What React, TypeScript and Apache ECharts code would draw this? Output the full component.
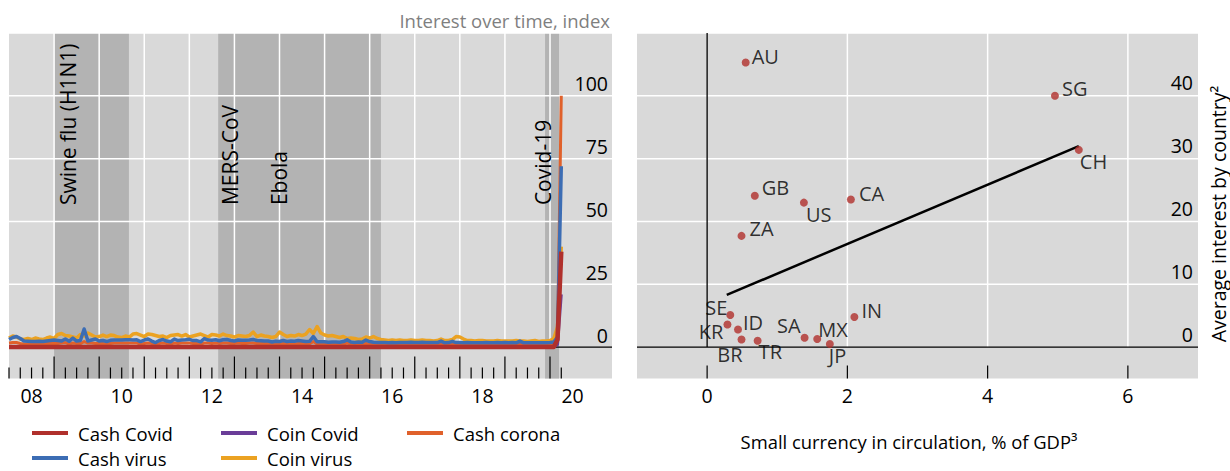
import React, { useEffect, useRef } from "react";
import * as echarts from "echarts";

const FONT = '"Open Sans", "Noto Sans", sans-serif';

// ---------- Left panel: interest over time (monthly, from Jan 2008) ----------
const START_YEAR = 2008;

const CASH_COVID = [
  0, 0, 0, 0, 0, 0, 0, 0, 0, 0, 0, 0,
  0, 0, 0, 0, 0, 0, 0, 0, 0, 0, 0, 0,
  0, 0, 0, 0, 0, 0, 0, 0, 0, 0, 0, 0,
  0, 0, 0, 0, 0, 0, 0, 0, 0, 0, 0, 0,
  0, 0, 0, 0, 0, 0, 0, 0, 0, 0, 0, 0,
  0, 0, 0, 0, 0, 0, 0, 0, 0, 0, 0, 0,
  0, 0, 0, 0, 0, 0, 0, 0, 0, 0, 0, 0,
  0, 0, 0, 0, 0, 0, 0, 0, 0, 0, 0, 0,
  0, 0, 0, 0, 0, 0, 0, 0, 0, 0, 0, 0,
  0, 0, 0, 0, 0, 0, 0, 0, 0, 0, 0, 0,
  0, 0, 0, 0, 0, 0, 0, 0, 0, 0, 0, 0,
  0, 0, 0, 0, 0, 0, 0, 0, 0, 0, 0, 0,
  0, 0, 3, 38,
];

const COIN_COVID = [
  0, 0, 0, 0, 0, 0, 0, 0, 0, 0, 0, 0,
  0, 0, 0, 0, 0, 0, 0, 0, 0, 0, 0, 0,
  0, 0, 0, 0, 0, 0, 0, 0, 0, 0, 0, 0,
  0, 0, 0, 0, 0, 0, 0, 0, 0, 0, 0, 0,
  0, 0, 0, 0, 0, 0, 0, 0, 0, 0, 0, 0,
  0, 0, 0, 0, 0, 0, 0, 0, 0, 0, 0, 0,
  0, 0, 0, 0, 0, 0, 0, 0, 0, 0, 0, 0,
  0, 0, 0, 0, 0, 0, 0, 0, 0, 0, 0, 0,
  0, 0, 0, 0, 0, 0, 0, 0, 0, 0, 0, 0,
  0, 0, 0, 0, 0, 0, 0, 0, 0, 0, 0, 0,
  0, 0, 0, 0, 0, 0, 0, 0, 0, 0, 0, 0,
  0, 0, 0, 0, 0, 0, 0, 0, 0, 0, 0, 0,
  0, 0, 1, 21,
];

const CASH_CORONA = [
  1.6, 1.8, 1.8, 1.4, 1.2, 1.2, 1.2, 1.2, 1.2, 1.2, 1.4, 1.4,
  1.4, 1.4, 1.6, 1.8, 1.2, 1.6, 1.4, 1.4, 2.2, 1.6, 1.6, 1.4,
  1.4, 1.4, 1.2, 1.4, 1.6, 1.6, 1.6, 1.6, 1.6, 1.6, 1.6, 1.2,
  1.4, 1.6, 1.4, 1.2, 1.4, 1.6, 1.4, 1.2, 1.6, 1.4, 1.6, 1.6,
  1.6, 1.4, 1.4, 1.2, 1.6, 1.6, 1.4, 1.6, 1.4, 1.6, 1.6, 1.4,
  1.4, 1.6, 1.4, 1.4, 1.6, 1.6, 1.4, 1.4, 1.4, 1.4, 1.2, 1.4,
  1.2, 1.4, 1.2, 1.4, 1.2, 1.4, 1.4, 1.2, 1.4, 2.2, 1.2, 1.2,
  1.2, 1.0, 1.2, 1.2, 1.0, 1.2, 1.6, 1.2, 1.0, 1.2, 1.0, 1.4,
  1.2, 1.0, 1.0, 1.0, 1.0, 1.0, 1.0, 1.0, 1.0, 1.0, 1.0, 1.0,
  1.0, 1.0, 1.0, 1.0, 1.0, 1.0, 1.0, 1.2, 1.0, 1.0, 1.2, 1.0,
  1.0, 1.0, 1.0, 1.0, 1.0, 1.0, 1.0, 1.0, 1.0, 1.0, 1.0, 1.0,
  1.0, 1.0, 1.0, 1.0, 1.2, 1.0, 1.0, 1.0, 1.0, 1.0, 1.0, 1.0,
  1.0, 1.2, 3, 100,
];

const CASH_VIRUS = [
  3.0, 3.8, 4.2, 3.4, 2.4, 2.3, 2.2, 2.2, 2.3, 2.2, 2.4, 2.6,
  2.8, 2.6, 2.4, 3.2, 2.3, 3.6, 2.4, 2.6, 7.2, 2.4, 2.8, 3.2,
  2.4, 2.6, 2.2, 2.7, 2.8, 2.8, 2.8, 2.9, 2.9, 2.8, 2.9, 2.2,
  2.8, 3.2, 2.4, 1.8, 2.6, 3.0, 2.4, 2.1, 3.2, 2.6, 2.8, 2.9,
  3.1, 2.6, 2.6, 2.1, 3.4, 2.8, 2.7, 2.9, 2.5, 2.9, 3.0, 2.6,
  2.4, 2.8, 2.7, 2.7, 2.8, 3.0, 2.6, 2.5, 2.4, 2.4, 2.0, 2.3,
  2.2, 2.6, 2.2, 2.4, 2.3, 2.6, 2.4, 2.2, 2.3, 4.2, 2.1, 2.1,
  2.1, 1.9, 2.0, 2.0, 1.9, 2.2, 2.9, 2.0, 1.8, 2.0, 1.9, 2.8,
  2.2, 1.9, 1.8, 1.8, 1.8, 1.7, 1.8, 1.7, 1.8, 1.8, 1.8, 1.9,
  1.8, 1.8, 1.9, 1.8, 1.8, 1.8, 1.8, 2.4, 1.7, 1.8, 2.3, 1.8,
  1.8, 1.7, 1.8, 1.7, 1.7, 1.7, 1.7, 1.8, 1.7, 1.7, 1.8, 1.7,
  1.8, 1.7, 1.8, 1.7, 2.4, 1.7, 1.7, 1.7, 1.7, 1.7, 1.7, 1.7,
  1.8, 2.0, 4, 72,
];

const COIN_VIRUS = [
  3.6, 4.4, 4.0, 3.2, 3.0, 3.4, 3.0, 3.6, 3.2, 3.0, 3.6, 4.0,
  3.4, 5.0, 5.4, 4.6, 4.4, 4.0, 3.6, 5.0, 4.4, 5.6, 4.8, 4.0,
  4.2, 4.8, 4.2, 4.8, 4.6, 4.0, 3.8, 4.4, 4.0, 5.2, 5.4, 4.8,
  4.2, 5.2, 5.0, 4.6, 4.2, 4.4, 3.8, 4.6, 4.8, 5.0, 4.4, 5.0,
  4.0, 4.4, 4.8, 5.2, 4.6, 4.0, 5.0, 4.8, 4.4, 5.2, 4.6, 4.4,
  4.0, 4.6, 4.4, 4.2, 4.6, 6.0, 4.2, 4.8, 4.4, 4.2, 3.8, 4.2,
  6.0, 5.0, 4.2, 4.6, 4.4, 5.0, 4.6, 5.2, 7.0, 5.4, 8.2, 5.6,
  4.8, 4.4, 4.6, 4.2, 3.8, 4.2, 3.4, 3.6, 3.4, 3.0, 3.2, 4.0,
  3.6, 4.2, 3.4, 3.0, 2.8, 2.6, 2.8, 2.6, 2.8, 2.6, 2.6, 2.8,
  2.6, 2.6, 2.8, 2.6, 2.6, 2.4, 2.6, 3.2, 2.6, 2.6, 3.0, 4.2,
  4.0, 3.2, 2.6, 2.6, 2.4, 2.6, 2.6, 2.4, 2.4, 2.4, 2.6, 2.4,
  2.4, 2.4, 2.4, 2.6, 2.4, 2.4, 2.2, 2.4, 2.6, 2.2, 2.4, 2.4,
  2.6, 3.4, 8, 40,
];

const LEGEND_ORDER = ["Cash Covid", "Coin Covid", "Cash corona", "Cash virus", "Coin virus"];

// shaded episodes [start, end] in years
const EPISODES = [
  [2009.0, 2010.66],
  [2012.64, 2016.25],
  [2019.89, 2020.2],
];
const EPISODE_NAMES = ["Swine flu (H1N1)", "MERS-CoV", "Ebola", "Covid-19"];
const EPISODE_LABEL_X = [2009.31, 2012.9, 2013.99, 2019.85];
const EPISODE_LABEL_Y = 56.5;

const LEFT_Y_TICKS = [0, 25, 50, 75, 100];
const LEFT_X_LABELS = ["08", "10", "12", "14", "16", "18", "20"];
const LEFT_GRID_YEARS = [2009, 2010, 2011, 2012, 2013, 2014, 2015, 2016, 2017, 2018, 2019, 2020];

// ---------- Right panel: scatter ----------
const COUNTRIES = ["AU", "SG", "CH", "GB", "CA", "US", "ZA", "SE", "KR", "ID", "BR", "TR", "SA", "MX", "JP", "IN"];
const SMALL_CURRENCY = [0.55, 4.96, 5.3, 0.68, 2.05, 1.38, 0.49, 0.33, 0.29, 0.44, 0.49, 0.72, 1.39, 1.57, 1.75, 2.1];
const AVG_INTEREST = [45.3, 40.0, 31.4, 24.1, 23.5, 23.0, 17.7, 5.1, 3.6, 2.8, 1.2, 1.0, 1.5, 1.3, 0.5, 4.8];
const FIT_LINE = [
  [0.28, 8.3],
  [5.3, 32.0],
];
const RIGHT_X_TICKS = [0, 2, 4, 6];
const RIGHT_Y_TICKS = [0, 10, 20, 30, 40];

// label placement (style): [dx, dy, align]
const LABEL_PLACE: Record<string, [number, number, string]> = {
  AU: [6, -6, "left"],
  SG: [7, -7, "left"],
  CH: [1, 12, "left"],
  GB: [7, -8, "left"],
  CA: [8, -6, "left"],
  US: [2, 12, "left"],
  ZA: [8, -7, "left"],
  SE: [-3, -8, "right"],
  KR: [-4, 7, "right"],
  ID: [5, -7, "left"],
  BR: [1, 15, "right"],
  TR: [1, 11, "left"],
  SA: [-4, -12, "right"],
  MX: [1, -9, "left"],
  JP: [-1, 12, "left"],
  IN: [7, -6, "left"],
};

const LX_MIN = 2008;
const LX_MAX = 2021.375;
const LY_MIN = -12.5;
const LY_MAX = 125;
const RX_MIN = -1;
const RX_MAX = 7;
const RY_MIN = -5;
const RY_MAX = 50;

const COLORS: Record<string, string> = {
  "Cash Covid": "#b0302c",
  "Coin Covid": "#6a3d98",
  "Cash corona": "#e0612b",
  "Cash virus": "#3c6db4",
  "Coin virus": "#eba222",
};

const TEXT = "#000";

function vLines(ax: number, xs: number[], y0: number, y1: number, color: string, width: number) {
  return {
    type: "custom",
    xAxisIndex: ax,
    yAxisIndex: ax,
    silent: true,
    z: 1,
    encode: { x: 0, y: 1 },
    data: xs.map((x) => [x, y0]),
    renderItem: (_p: any, api: any) => {
      const a = api.coord([api.value(0), y0]);
      const b = api.coord([api.value(0), y1]);
      return {
        type: "line",
        shape: { x1: a[0], y1: a[1], x2: b[0], y2: b[1] },
        style: { stroke: color, lineWidth: width },
      };
    },
  };
}

function hLines(ax: number, ys: number[], x0: number, x1: number, color: string, width: number) {
  return {
    type: "custom",
    xAxisIndex: ax,
    yAxisIndex: ax,
    silent: true,
    z: 1,
    encode: { x: 0, y: 1 },
    data: ys.map((y) => [x0, y]),
    renderItem: (_p: any, api: any) => {
      const a = api.coord([x0, api.value(1)]);
      const b = api.coord([x1, api.value(1)]);
      return {
        type: "line",
        shape: { x1: a[0], y1: a[1], x2: b[0], y2: b[1] },
        style: { stroke: color, lineWidth: width },
      };
    },
  };
}

function ticks(ax: number, list: [number, number][], yBase: number) {
  return {
    type: "custom",
    xAxisIndex: ax,
    yAxisIndex: ax,
    silent: true,
    z: 1,
    encode: { x: 0, y: 1 },
    data: list.map((t) => [t[0], t[1]]),
    renderItem: (_p: any, api: any) => {
      const a = api.coord([api.value(0), yBase]);
      const len = api.value(1);
      return {
        type: "line",
        shape: { x1: a[0], y1: a[1], x2: a[0], y2: a[1] - len },
        style: { stroke: "#000", lineWidth: 1.2 },
      };
    },
  };
}

export default function App() {
  const ref = useRef<HTMLDivElement>(null);

  useEffect(() => {
    if (!ref.current) return;
    const chart = echarts.init(ref.current, undefined, { renderer: "svg" });

    const monthX = (i: number) => START_YEAR + i / 12;
    const lineSeries = (name: string, values: number[], width: number) => ({
      type: "line",
      name,
      xAxisIndex: 0,
      yAxisIndex: 0,
      data: values.map((v, i) => [monthX(i), v]),
      showSymbol: false,
      symbol: "none",
      color: COLORS[name],
      lineStyle: { color: COLORS[name], width, join: "round" },
      silent: true,
      z: 2,
    });

    // left axis ticks: year (long) and quarter (short) up to Q2 2020
    const leftTicks: [number, number][] = [];
    for (let y = 2008; y <= 2020; y++) {
      for (let q = 0; q < 4; q++) {
        const v = y + q / 4;
        if (v > 2020.25 + 1e-9) continue;
        leftTicks.push([v, q === 0 && y > 2008 ? 22 : 11]);
      }
    }
    const rightTicks: [number, number][] = RIGHT_X_TICKS.map((v) => [v, 13]);

    const labelFont = { fontFamily: FONT, fontSize: 19.5, color: TEXT };

    const option: any = {
      animation: false,
      textStyle: { fontFamily: FONT },
      grid: [
        { left: 9, right: 1230 - 612, top: 33, bottom: 471 - 378.5, show: true, backgroundColor: "#d9d9d9", borderWidth: 0 },
        { left: 637, right: 1230 - 1198, top: 33, bottom: 471 - 378.5, show: true, backgroundColor: "#d9d9d9", borderWidth: 0 },
      ],
      xAxis: [
        {
          type: "value",
          gridIndex: 0,
          min: LX_MIN,
          max: LX_MAX,
          interval: 0.5,
          axisLine: { show: false },
          axisTick: { show: false },
          splitLine: { show: false },
          axisLabel: {
            ...labelFont,
            margin: 7,
            formatter: (v: number) => {
              const y = Math.floor(v + 1e-6);
              if (Math.abs(v - y - 0.5) > 1e-6) return "";
              const lbl = String(y % 100).padStart(2, "0");
              return LEFT_X_LABELS.includes(lbl) ? lbl : "";
            },
          },
        },
        {
          type: "value",
          gridIndex: 1,
          min: RX_MIN,
          max: RX_MAX,
          interval: 1,
          axisLine: { show: false },
          axisTick: { show: false },
          splitLine: { show: false },
          axisLabel: {
            ...labelFont,
            margin: 7,
            formatter: (v: number) => (RIGHT_X_TICKS.includes(v) ? String(v) : ""),
          },
        },
      ],
      yAxis: [
        {
          type: "value",
          gridIndex: 0,
          position: "right",
          min: LY_MIN,
          max: LY_MAX,
          interval: 12.5,
          axisLine: { show: false },
          axisTick: { show: false },
          splitLine: { show: false },
          axisLabel: {
            ...labelFont,
            inside: true,
            margin: 4,
            verticalAlign: "bottom",
            padding: [0, 0, 2, 0],
            formatter: (v: number) => (LEFT_Y_TICKS.includes(v) ? String(v) : ""),
          },
        },
        {
          type: "value",
          gridIndex: 1,
          position: "right",
          min: RY_MIN,
          max: RY_MAX,
          interval: 5,
          axisLine: { show: false },
          axisTick: { show: false },
          splitLine: { show: false },
          axisLabel: {
            ...labelFont,
            inside: true,
            margin: 5,
            verticalAlign: "bottom",
            padding: [0, 0, 3, 0],
            formatter: (v: number) => (RIGHT_Y_TICKS.includes(v) ? String(v) : ""),
          },
        },
      ],
      legend: LEGEND_ORDER.map((name, i) => ({
        data: [name],
        left: [32, 221, 407, 32, 221][i],
        top: [423, 423, 423, 448, 448][i],
        icon: "rect",
        itemWidth: 36,
        itemHeight: 4,
        padding: 0,
        selectedMode: false,
        textStyle: { fontFamily: FONT, fontSize: 18.5, lineHeight: 20, color: TEXT, padding: [0, 0, 0, 5] },
      })),
      graphic: [
        {
          type: "text",
          x: 610,
          y: 20,
          style: { text: "Interest over time, index", fontFamily: FONT, fontSize: 18.5, fill: "#7f7f7f", align: "right", verticalAlign: "middle" },
        },
        {
          type: "text",
          x: 909,
          y: 441,
          style: { text: "Small currency in circulation, % of GDP³", fontFamily: FONT, fontSize: 18.4, fill: TEXT, align: "center", verticalAlign: "middle" },
        },
        {
          type: "text",
          x: 1218,
          y: 214,
          rotation: Math.PI / 2,
          style: { text: "Average interest by country²", fontFamily: FONT, fontSize: 19.5, fill: TEXT, align: "center", verticalAlign: "middle" },
        },
      ],
      series: [
        // shaded episodes
        {
          type: "custom",
          xAxisIndex: 0,
          yAxisIndex: 0,
          silent: true,
          z: 1,
          encode: { x: [0, 1] },
          data: EPISODES.map((e) => [e[0], e[1]]),
          renderItem: (_p: any, api: any) => {
            const a = api.coord([api.value(0), LY_MAX]);
            const b = api.coord([api.value(1), LY_MIN]);
            return {
              type: "rect",
              shape: { x: a[0], y: a[1], width: b[0] - a[0], height: b[1] - a[1] },
              style: { fill: "#b3b3b3" },
            };
          },
        },
        vLines(0, LEFT_GRID_YEARS, 0, LY_MAX, "#ffffff", 1.5),
        hLines(0, LEFT_Y_TICKS.filter((v) => v > 0).concat([LY_MAX]), LX_MIN, LX_MAX, "#ffffff", 1.5),
        hLines(0, [0], LX_MIN, LX_MAX, "#000000", 1.3),
        ticks(0, leftTicks, LY_MIN),
        // episode labels
        {
          type: "custom",
          xAxisIndex: 0,
          yAxisIndex: 0,
          silent: true,
          z: 1,
          encode: { x: 0, y: 1 },
          data: EPISODE_LABEL_X.map((x) => [x, EPISODE_LABEL_Y]),
          renderItem: (p: any, api: any) => {
            const a = api.coord([api.value(0), api.value(1)]);
            return {
              type: "text",
              x: a[0],
              y: a[1],
              rotation: Math.PI / 2,
              style: {
                text: EPISODE_NAMES[p.dataIndex],
                fontFamily: FONT,
                fontSize: 21,
                fill: TEXT,
                align: "left",
                verticalAlign: "middle",
              },
            };
          },
        },
        lineSeries("Coin virus", COIN_VIRUS, 3.5),
        lineSeries("Cash corona", CASH_CORONA, 3),
        lineSeries("Cash virus", CASH_VIRUS, 3.5),
        lineSeries("Coin Covid", COIN_COVID, 3),
        lineSeries("Cash Covid", CASH_COVID, 4.5),

        // right panel background lines
        vLines(1, RIGHT_X_TICKS.filter((v) => v > 0), 0, RY_MAX, "#ffffff", 1.5),
        hLines(1, RIGHT_Y_TICKS.filter((v) => v > 0).concat([RY_MAX]), RX_MIN, RX_MAX, "#ffffff", 1.5),
        hLines(1, [0], RX_MIN, RX_MAX, "#000000", 1.3),
        vLines(1, [0], 0, RY_MAX, "#000000", 1.3),
        ticks(1, rightTicks, RY_MIN),
        {
          type: "line",
          xAxisIndex: 1,
          yAxisIndex: 1,
          data: FIT_LINE,
          showSymbol: false,
          symbol: "none",
          lineStyle: { color: "#000", width: 2.5 },
          silent: true,
          z: 2,
        },
        {
          type: "scatter",
          xAxisIndex: 1,
          yAxisIndex: 1,
          symbolSize: 8,
          itemStyle: { color: "#b0302c" },
          silent: true,
          z: 3,
          data: COUNTRIES.map((c, i) => {
            const pl = LABEL_PLACE[c];
            return {
              name: c,
              value: [SMALL_CURRENCY[i], AVG_INTEREST[i]],
              label: {
                show: true,
                formatter: "{b}",
                position: [pl[0] + 4, pl[1] + 4],
                align: pl[2],
                verticalAlign: "middle",
                fontFamily: FONT,
                fontSize: 20,
                lineHeight: 18,
                color: TEXT,
              },
            };
          }),
        },
      ],
    };

    chart.setOption(option);
    return () => chart.dispose();
  }, []);

  return (
    <div
      ref={ref}
      style={{ position: "absolute", left: 0, top: 0, width: 1230, height: 471 }}
    />
  );
}
